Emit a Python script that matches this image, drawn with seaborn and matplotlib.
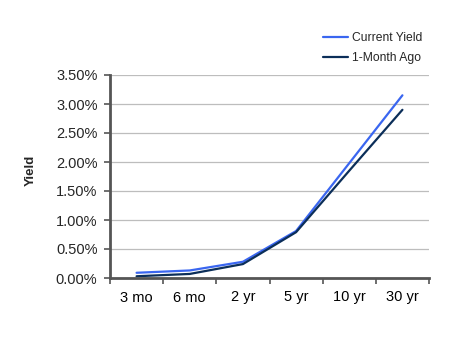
import matplotlib
matplotlib.use("Agg")
import matplotlib.pyplot as plt
import matplotlib.ticker as mticker
import seaborn as sns
import pandas as pd

maturities = ["3 mo", "6 mo", "2 yr", "5 yr", "10 yr", "30 yr"]
current_yield = [0.09, 0.13, 0.28, 0.81, 1.98, 3.15]
month_ago_yield = [0.03, 0.07, 0.24, 0.79, 1.85, 2.90]

series_names = ["Current Yield", "1-Month Ago"]
colors = {"Current Yield": "#3A66F0", "1-Month Ago": "#0B2E59"}

df = pd.DataFrame({
    "maturity": maturities * 2,
    "pos": list(range(len(maturities))) * 2,
    "yield": current_yield + month_ago_yield,
    "series": [series_names[0]] * len(maturities) + [series_names[1]] * len(maturities),
})

sns.set_style("white")
plt.rcParams["font.family"] = ["Liberation Sans", "DejaVu Sans"]

fig = plt.figure(figsize=(4.67, 3.41), dpi=100)
ax = fig.add_axes([110 / 467, 1 - 278 / 341, 319 / 467, 203 / 341])

sns.lineplot(data=df, x="pos", y="yield", hue="series", hue_order=series_names,
             palette=colors, linewidth=1.6, ax=ax, legend=False, sort=False)

ax.set_xlim(-0.5, len(maturities) - 0.5)
ax.set_ylim(0, 3.5)
ax.yaxis.set_major_locator(mticker.MultipleLocator(0.5))
ax.yaxis.set_major_formatter(mticker.FuncFormatter(lambda v, p: f"{v:.2f}%"))
ax.grid(axis="y", color="#BDBDBD", linewidth=0.9)
ax.set_axisbelow(True)

ax.set_xticks(range(len(maturities)))
ax.set_xticklabels(maturities)
ax.set_xticks([i - 0.5 for i in range(len(maturities) + 1)], minor=True)
ax.tick_params(axis="x", which="major", length=0, pad=9, labelsize=10.5, colors="#000000")
ax.tick_params(axis="x", which="minor", length=4, width=1.2, color="#555555", direction="out", bottom=True)
ax.tick_params(axis="y", which="major", length=4, width=1.2, color="#555555", direction="out",
               left=True, labelsize=10.5, pad=5)

for side in ("top", "right"):
    ax.spines[side].set_visible(False)
for side in ("left", "bottom"):
    ax.spines[side].set_color("#555555")
    ax.spines[side].set_linewidth(2.0)

ax.set_xlabel("")
ax.set_ylabel("Yield", fontsize=9.5, fontweight="bold")
ax.yaxis.set_label_coords((37 - 110) / 319, (278 - 170) / 203)

handles = [plt.Line2D([], [], color=colors[n], linewidth=1.6) for n in series_names]
fig.legend(handles, series_names, loc="upper left", bbox_to_anchor=(312 / 467, 1 - 21 / 341),
           frameon=False, fontsize=8.7, handlelength=2.1, handletextpad=0.3, labelspacing=0.7)

fig.savefig("out.png", dpi=100)
